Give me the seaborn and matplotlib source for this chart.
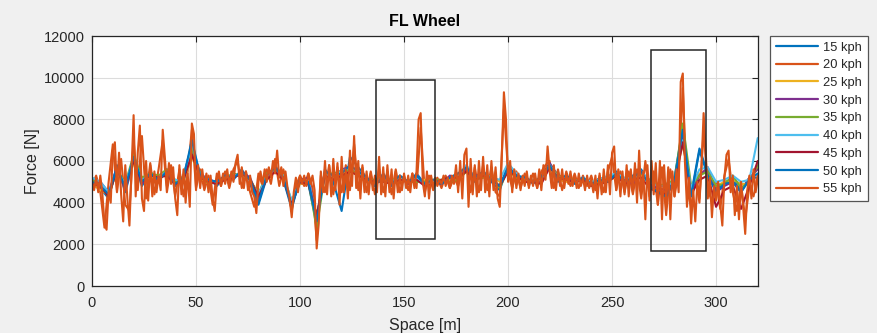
import numpy as np
import pandas as pd
import matplotlib
matplotlib.use("Agg")
import matplotlib.pyplot as plt
from matplotlib.patches import Rectangle
from matplotlib.lines import Line2D
import seaborn as sns

# ---------------- data ----------------
speeds = ["15 kph", "20 kph", "25 kph", "30 kph", "35 kph", "40 kph", "45 kph", "50 kph", "55 kph"]
x_range = [0, 320]

# 55 kph, sampled every 1 m
f55 = [5000, 4600, 5200, 4500, 5300, 4400, 3000, 2700, 4600, 4000,
       6500, 6900, 4600, 6400, 4400, 3100, 5800, 4200, 2900, 5600,
       8200, 4300, 6400, 7700, 4200, 3600, 6000, 4100, 5800, 4300,
       5500, 4500, 5300, 4600, 7500, 6200, 4800, 5900, 4900, 5700,
       4200, 3400, 5800, 4400, 5600, 4000, 5400, 3800, 7800, 7300,
       4600, 5800, 4700, 5600, 4800, 5400, 4500, 5300, 4200, 3600,
       5000, 5500, 4800, 5400, 4900, 5600, 4800, 5500, 5000, 5900,
       6300, 4900, 5700, 4700, 5500, 4600, 5300, 4500, 4300, 3500,
       5000, 5500, 4900, 5600, 5000, 5700, 5200, 6000, 5400, 6500,
       5200, 5700, 4800, 5500, 4700, 4200, 3300, 4500, 5200, 4500,
       5300, 4900, 5300, 4800, 5400, 4900, 5300, 4600, 1800, 3000,
       5500, 4500, 6000, 4400, 5800, 4300, 6100, 4600, 5900, 3900,
       6200, 4500, 5600, 4200, 6500, 4800, 7200, 4700, 6000, 4200,
       5800, 4500, 5500, 4400, 5400, 4600, 5300, 4500, 6200, 4400,
       5700, 4300, 5800, 4500, 5600, 4200, 5500, 4500, 5300, 4600,
       5400, 4700, 5300, 4500, 5400, 4700, 5500, 8000, 8300, 5000,
       4300, 5500, 4200, 5300, 4700, 5200, 4800, 5100, 4900, 5300,
       4800, 5200, 4700, 5300, 4900, 5800, 4500, 6000, 4200, 6300,
       6600, 3800, 6100, 4400, 5800, 4300, 6000, 4600, 6200, 4500,
       5800, 4300, 6000, 4600, 5700, 4200, 3800, 6200, 9300, 8000,
       5000, 6000, 4500, 5600, 4700, 5400, 4600, 5300, 4800, 5500,
       4700, 5300, 4800, 5400, 4700, 5600, 4600, 5800, 5100, 6700,
       5500, 4700, 5800, 4600, 5500, 4800, 5600, 4700, 5400, 4900,
       5500, 4800, 5300, 4700, 5400, 4800, 5200, 4600, 5300, 4700,
       5100, 4500, 5300, 4200, 5400, 4400, 5600, 4500, 5800, 4400,
       6400, 6700, 4600, 5600, 4300, 5500, 4400, 5800, 4300, 5600,
       4500, 5900, 4000, 6500, 4400, 5500, 3200, 5800, 4100, 6000,
       4400, 5900, 3900, 6000, 3200, 5800, 4000, 5700, 3200, 5500,
       4300, 5600, 4500, 9800, 10200, 6000, 3800, 5200, 3000, 4600,
       3100, 5000, 4200, 5800, 8300, 6500, 4200, 5200, 3300, 4800,
       4100, 5000, 3900, 2900, 5200, 6300, 6500, 4500, 5300, 3400,
       4800, 3200, 5000, 3800, 2500, 4600, 5300, 4200, 5600, 4500, 5100]

# 20 kph, sampled every 2 m
f20 = [4800, 5300, 4500, 2800, 5000, 6800, 4500, 6100, 3900, 3600,
       7000, 4600, 7200, 4200, 5900, 4400, 5600, 7000, 4500, 5800,
       4300, 5600, 4300, 5500, 7500, 4700, 5600, 4600, 5300, 3900,
       5400, 4800, 5500, 4700, 5600, 6000, 4700, 5500, 4500, 3800,
       5400, 4800, 5600, 4900, 6100, 4800, 5600, 4600, 3600, 4800,
       5300, 4800, 5400, 4700, 2200, 5300, 4500, 5800, 4400, 5700,
       4500, 5800, 4600, 6800, 4600, 5700, 4500, 5500, 4400, 5600,
       4500, 5500, 4400, 5600, 4500, 5300, 4600, 5400, 4700, 7600,
       4500, 5300, 4600, 5200, 4700, 5300, 4700, 5200, 4800, 5500,
       5800, 4500, 5700, 4500, 5800, 4600, 5700, 4500, 4300, 8500,
       5500, 4700, 5500, 4700, 5400, 4800, 5400, 4700, 5500, 5800,
       6000, 4700, 5600, 4600, 5500, 4800, 5400, 4700, 5300, 4800,
       5300, 4600, 5300, 4500, 5500, 6200, 4600, 5500, 4500, 5500,
       4400, 5600, 4200, 6000, 4300, 5500, 3900, 5700, 3400, 5600,
       4300, 5500, 9500, 4600, 3800, 5200, 4000, 7500, 4700, 4000,
       5000, 3700, 5300, 6100, 4500, 3600, 4900, 3200, 4800, 4300, 5300]

# remaining speeds, sampled every 4 m
f15 = [5200, 4700, 4200, 5800, 4500, 6000, 4800, 5500, 5000, 5600,
       4800, 5300, 6800, 5100, 5200, 4800, 5300, 5100, 5600, 4900,
       3900, 5200, 5800, 5100, 3700, 5200, 4900, 3000, 5600, 5000,
       3600, 6200, 5700, 5200, 4800, 5400, 4800, 5300, 4900, 5400,
       4900, 5100, 5000, 5200, 5400, 5700, 5000, 5500, 5000, 4600,
       5800, 5100, 5300, 4900, 5300, 5900, 5000, 5300, 4900, 5200,
       4800, 5200, 5000, 5500, 4900, 5300, 5600, 4900, 4600, 4400,
       5200, 7600, 4400, 6600, 5400, 4600, 5000, 5100, 4600, 5200, 5200]
f25 = [4900, 4600, 4400, 5500, 4700, 5900, 5100, 5200, 5300, 5300,
       5100, 5000, 6200, 5200, 4900, 5000, 5100, 5300, 5300, 5100,
       4400, 5200, 5500, 5200, 4100, 4900, 5000, 3400, 5300, 5200,
       5400, 5500, 5300, 5000, 5100, 5100, 5100, 5000, 5100, 5100,
       5100, 4900, 5000, 5100, 5100, 5500, 5100, 5200, 5300, 5000,
       5500, 5200, 5000, 5100, 5000, 5700, 5100, 5000, 5100, 5000,
       5000, 5100, 5100, 5200, 5100, 5000, 5300, 5100, 4900, 4800,
       5100, 6800, 4700, 5400, 5500, 4800, 5000, 5100, 4900, 4900, 5700]
f30 = [5000, 5000, 4500, 5700, 4600, 6100, 4900, 5400, 5100, 5500,
       4900, 5200, 6400, 5400, 5100, 5000, 5300, 5200, 5500, 5200,
       4200, 5200, 5700, 5200, 3900, 5100, 5200, 3300, 5500, 5100,
       5600, 5700, 5500, 5200, 4900, 5300, 4900, 5200, 4900, 5300,
       4900, 5000, 4900, 5300, 5200, 5600, 5300, 5400, 5100, 4800,
       5700, 5400, 5000, 5000, 5000, 5900, 5300, 5200, 5000, 5200,
       4900, 5000, 5100, 5300, 5100, 4900, 5500, 4900, 4700, 4600,
       4900, 7200, 4500, 5300, 5700, 4500, 4800, 5000, 4500, 5200, 5600]
f35 = [5100, 4800, 4300, 5600, 4900, 6300, 5200, 5400, 5300, 5600,
       5000, 5200, 6600, 5400, 4900, 5000, 5200, 5400, 5300, 5100,
       4400, 5400, 5600, 5300, 4000, 5000, 5000, 2800, 5400, 5400,
       5500, 5600, 5400, 5100, 5100, 5200, 5100, 5100, 5000, 5000,
       5000, 5100, 5100, 5000, 5100, 5500, 5100, 5200, 5300, 4700,
       5600, 5200, 5100, 5000, 5100, 5800, 5300, 5200, 5100, 5000,
       4900, 5000, 5100, 5400, 5000, 5200, 5400, 5100, 4800, 4900,
       5100, 7800, 4800, 5300, 5500, 4800, 4900, 5300, 4700, 5000, 5800]
f40 = [5200, 5000, 4500, 5500, 4900, 6100, 5100, 5300, 5200, 5500,
       5100, 5000, 6900, 5300, 5100, 4900, 5200, 5300, 5400, 5000,
       4400, 5300, 5500, 5300, 4100, 5000, 5100, 3300, 5300, 5300,
       5500, 5700, 5500, 5100, 5000, 5200, 5000, 5200, 5000, 5200,
       4900, 5000, 5000, 5200, 5300, 5800, 5200, 5400, 5200, 5100,
       5900, 5400, 5100, 5100, 5100, 5800, 5200, 5200, 5000, 5200,
       5000, 5100, 5300, 5400, 5200, 5100, 5500, 5000, 4800, 4800,
       5000, 7000, 4700, 5600, 5700, 5000, 5100, 5300, 5000, 5100, 7100]
f45 = [4900, 4800, 4300, 5600, 4700, 6000, 5000, 5300, 5200, 5300,
       4900, 5100, 6300, 5200, 5000, 4900, 5100, 5200, 5400, 5100,
       4300, 5100, 5500, 5100, 3900, 5000, 4900, 3400, 5300, 5100,
       5300, 5500, 5300, 5100, 5000, 5000, 4900, 5100, 5000, 5100,
       4800, 4900, 5100, 5200, 5200, 5500, 5100, 5300, 5100, 4800,
       5500, 5300, 5000, 5000, 4900, 5700, 5200, 5100, 5000, 5100,
       4800, 4900, 5000, 5300, 4900, 5100, 5200, 4700, 4500, 4400,
       4900, 6900, 4400, 5100, 5300, 3800, 4600, 4800, 3700, 4800, 6000]
f50 = [5000, 4800, 4400, 5700, 4700, 6200, 5000, 5400, 5100, 5500,
       4900, 5200, 7000, 5300, 5100, 5000, 5300, 5200, 5500, 5100,
       4000, 5300, 5700, 5200, 3800, 5100, 5000, 3100, 5500, 5300,
       5400, 5800, 5500, 5200, 4800, 5300, 4900, 5300, 5000, 5300,
       4900, 5100, 4900, 5200, 5400, 5700, 5200, 5500, 5100, 4800,
       5700, 5300, 5200, 5000, 5200, 5800, 5100, 5300, 5000, 5200,
       4900, 5100, 5000, 5400, 5000, 5200, 5500, 4800, 4500, 4300,
       5100, 7500, 4300, 6500, 5300, 4500, 4900, 5000, 4500, 5100, 5400]

series = [f15, f20, f25, f30, f35, f40, f45, f50, f55]

# highlight boxes: (x0, x1, y0, y1) in data units
highlight_boxes = [(136.5, 165.0, 2270, 9900), (268.8, 295.3, 1680, 11310)]

# ---------------- build frame ----------------
frames = []
for name, vals in zip(speeds, series):
    xs = np.linspace(x_range[0], x_range[1], len(vals))
    frames.append(pd.DataFrame({"Space": xs, "Force": vals, "Speed": name}))
df = pd.concat(frames, ignore_index=True)

palette = ["#0072BD", "#D95319", "#EDB120", "#7E2F8E", "#77AC30",
           "#4DBEEE", "#A2142F", "#0072BD", "#D95319"]

# ---------------- style ----------------
sns.set_theme(style="white")
plt.rcParams["font.family"] = ["Liberation Sans", "DejaVu Sans"]

fig = plt.figure(figsize=(8.78, 3.33), dpi=100, facecolor="#f0f0f0")
ax = fig.add_axes([92 / 878, 1 - 286 / 333, 665.7 / 878, 250 / 333])
ax.set_facecolor("white")

sns.lineplot(data=df, x="Space", y="Force", hue="Speed", hue_order=speeds,
             palette=palette, estimator=None, sort=False, lw=1.5,
             legend=False, ax=ax)

for (x0, x1, y0, y1) in highlight_boxes:
    ax.add_patch(Rectangle((x0, y0), x1 - x0, y1 - y0, fill=False,
                           edgecolor="#262626", lw=1.1, zorder=5))

ax.set_xlim(0, 320)
ax.set_ylim(0, 12000)
ax.set_xticks(np.arange(0, 301, 50))
ax.set_yticks(np.arange(0, 12001, 2000))
ax.grid(True, color="#dcdcdc", lw=0.8)
ax.set_axisbelow(True)
for s in ax.spines.values():
    s.set_color("#262626")
    s.set_linewidth(0.9)
ax.tick_params(direction="in", length=4, width=0.8, colors="#262626",
               labelsize=10.5, top=True, right=True, labelcolor="#262626")
ax.tick_params(axis="x", pad=7)
ax.tick_params(axis="y", pad=5)

ax.set_xlabel("Space [m]", fontsize=11.5, color="#262626")
ax.set_ylabel("Force [N]", fontsize=11.5, color="#262626")
ax.xaxis.set_label_coords(0.5, -0.128)
ax.yaxis.set_label_coords(-0.078, 0.5)
ax.text(0.5, 1.056, "FL Wheel", transform=ax.transAxes, ha="center",
        va="center", fontsize=11.5, fontweight="bold", color="black")

handles = [Line2D([0], [0], color=c, lw=1.6) for c in palette]
leg = fig.legend(handles, speeds, loc="upper left",
                 bbox_to_anchor=(770 / 878, 1 - 35.7 / 333),
                 fontsize=9.3, frameon=True, fancybox=False,
                 edgecolor="#555555", facecolor="white", framealpha=1,
                 handlelength=3.3, handletextpad=0.35, labelspacing=0.44,
                 borderpad=0.45, borderaxespad=0)
leg.get_frame().set_linewidth(0.9)
for t in leg.get_texts():
    t.set_color("#262626")

fig.savefig("out.png", dpi=100, facecolor=fig.get_facecolor())
